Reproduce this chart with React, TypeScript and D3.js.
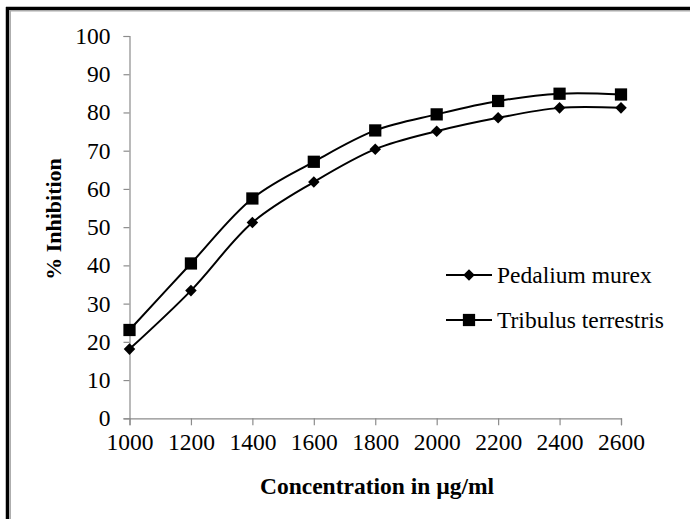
import React, { useEffect, useRef } from 'react';
import * as d3 from 'd3';

// concentrations (µg/ml)
const concentrations = [1000, 1200, 1400, 1600, 1800, 2000, 2200, 2400, 2600];
// % inhibition
const pedaliumMurex = [18.1, 33.4, 51.2, 61.8, 70.4, 75.1, 78.6, 81.2, 81.2];
const tribulusTerrestris = [23.1, 40.5, 57.5, 67.1, 75.3, 79.5, 83.0, 84.9, 84.7];
const yTicks = [0, 10, 20, 30, 40, 50, 60, 70, 80, 90, 100];
const seriesNames = ['Pedalium murex', 'Tribulus terrestris'];

const FONT = '"Liberation Serif", "Times New Roman", serif';

const App = () => {
  const svgRef = useRef<SVGSVGElement | null>(null);

  useEffect(() => {
    document.body.style.margin = '0';
    if (!svgRef.current) return;
    const svg = d3.select(svgRef.current);
    svg.selectAll('*').remove();

    const W = 690;
    const H = 519;
    const left = 129.5;
    const right = 621;
    const top = 36;
    const bottom = 418.3;

    const x = d3.scaleLinear().domain([1000, 2600]).range([left, right]);
    const y = d3.scaleLinear().domain([0, 100]).range([bottom, top]);

    svg.append('rect').attr('width', W).attr('height', H).attr('fill', '#fff');

    // outer frame (only top and left edges are visible in the picture)
    svg.append('line').attr('x1', 7.5).attr('x2', 7.5).attr('y1', 7).attr('y2', H)
      .attr('stroke', '#000').attr('stroke-width', 3.5);
    svg.append('line').attr('x1', 6).attr('x2', W).attr('y1', 8.5).attr('y2', 8.5)
      .attr('stroke', '#000').attr('stroke-width', 3.5);
    svg.append('line').attr('x1', 10.2).attr('x2', 10.2).attr('y1', 10.5).attr('y2', H)
      .attr('stroke', '#aaa').attr('stroke-width', 1.5);
    svg.append('line').attr('x1', 9).attr('x2', W).attr('y1', 10.8).attr('y2', 10.8)
      .attr('stroke', '#aaa').attr('stroke-width', 1.5);

    // y axis
    const yAxis = svg.append('g')
      .attr('transform', `translate(${left},0)`)
      .call(d3.axisLeft(y).tickValues(yTicks).tickSize(6).tickPadding(13));
    yAxis.select('.domain').attr('stroke', '#8c8c8c').attr('stroke-width', 1.2);
    yAxis.selectAll('.tick line').attr('stroke', '#8c8c8c').attr('stroke-width', 1.2);
    yAxis.selectAll('.tick text')
      .attr('font-family', FONT).attr('font-size', 23.5).attr('fill', '#000');

    // x axis
    const xAxis = svg.append('g')
      .attr('transform', `translate(0,${bottom})`)
      .call(d3.axisBottom(x).tickValues(concentrations).tickFormat(d3.format('d')).tickSize(7).tickPadding(8));
    xAxis.select('.domain').attr('stroke', '#8c8c8c').attr('stroke-width', 1.2);
    xAxis.selectAll('.tick line').attr('stroke', '#8c8c8c').attr('stroke-width', 1.2);
    xAxis.selectAll('.tick text')
      .attr('font-family', FONT).attr('font-size', 23.5).attr('fill', '#000');

    // axis titles
    svg.append('text')
      .attr('x', 377).attr('y', 494)
      .attr('text-anchor', 'middle')
      .attr('font-family', FONT).attr('font-size', 23.5).attr('font-weight', 'bold')
      .text('Concentration in µg/ml');
    svg.append('text')
      .attr('transform', 'translate(61,219) rotate(-90)')
      .attr('text-anchor', 'middle')
      .attr('font-family', FONT).attr('font-size', 22).attr('font-weight', 'bold')
      .text('% Inhibition');

    const line = d3.line<number>()
      .x((_, i) => x(concentrations[i]))
      .y(d => y(d))
      .curve(d3.curveCatmullRom.alpha(0.5));

    const diamond = d3.symbol().type(d3.symbolDiamond2).size(85);
    const square = d3.symbol().type(d3.symbolSquare).size(150);

    const series = [
      { name: seriesNames[0], values: pedaliumMurex, marker: diamond },
      { name: seriesNames[1], values: tribulusTerrestris, marker: square },
    ];

    series.forEach(s => {
      svg.append('path')
        .datum(s.values)
        .attr('fill', 'none')
        .attr('stroke', '#000')
        .attr('stroke-width', 2)
        .attr('d', line);
      svg.append('g').selectAll('path')
        .data(s.values)
        .join('path')
        .attr('transform', (d, i) => `translate(${x(concentrations[i])},${y(d)})`)
        .attr('d', s.marker())
        .attr('fill', '#000');
    });

    // legend
    const legend = svg.append('g').attr('transform', 'translate(446,275)');
    series.forEach((s, i) => {
      const g = legend.append('g').attr('transform', `translate(0,${i * 45})`);
      g.append('line').attr('x1', 0).attr('x2', 46).attr('y1', 0).attr('y2', 0)
        .attr('stroke', '#000').attr('stroke-width', 2);
      g.append('path').attr('transform', 'translate(23,0)').attr('d', s.marker()).attr('fill', '#000');
      g.append('text')
        .attr('x', 51).attr('y', 8)
        .attr('font-family', FONT).attr('font-size', 23.5)
        .text(s.name);
    });
  }, []);

  return <svg ref={svgRef} width={690} height={519} style={{ display: 'block' }} />;
};

export default App;
